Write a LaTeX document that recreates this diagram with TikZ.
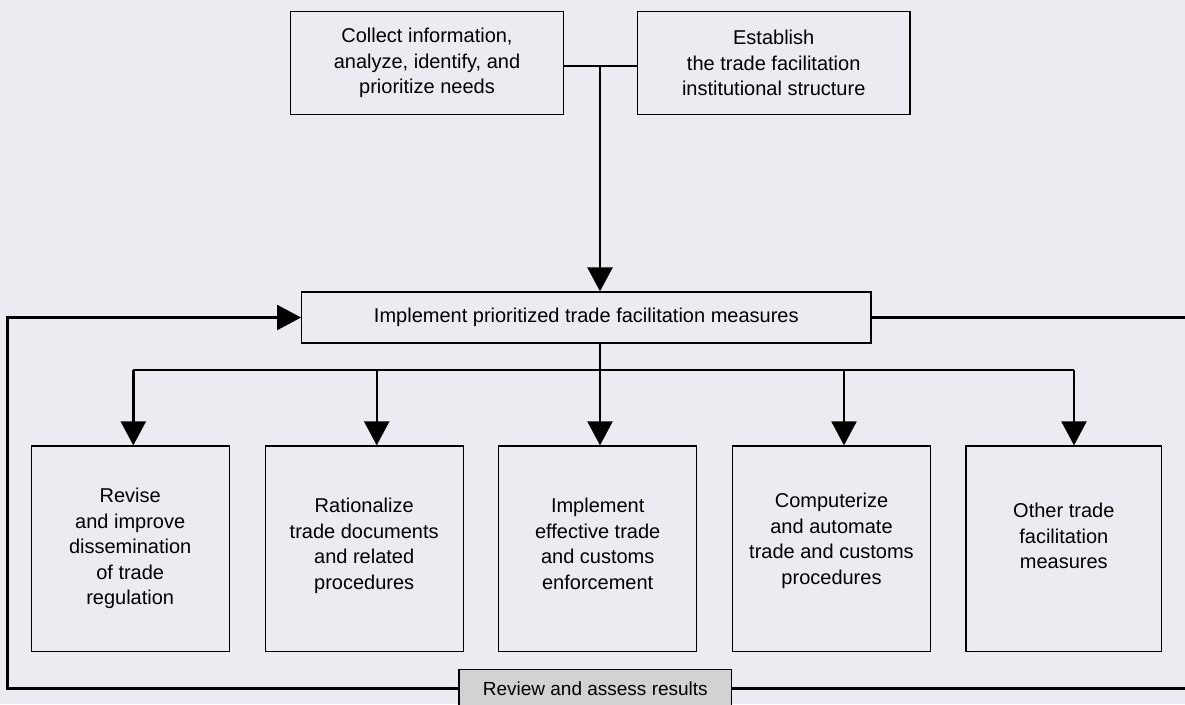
\documentclass[tikz,border=0pt]{standalone}
\usepackage{fontspec}
\setmainfont{Liberation Sans}
\usetikzlibrary{arrows.meta}
\definecolor{bgcol}{RGB}{236,235,241}
\definecolor{reviewcol}{RGB}{210,210,212}
\begin{document}
\begin{tikzpicture}[x=1pt,y=-1pt,
    box/.style={draw=black,line width=1.2pt,align=center,inner sep=0pt,
      font=\fontsize{20}{25.5}\selectfont},
    toprow/.style={box,minimum width=272.6pt,minimum height=102.6pt},
    lowrow/.style={box,minimum width=198pt,minimum height=205.7pt},
    link/.style={line width=2.4pt},
    arrow/.style={link,-{Triangle[length=24pt,width=25pt]}}]
  \fill[bgcol] (0,0) rectangle (1185,704);
  \useasboundingbox (0,0) rectangle (1185,704);

  \node[toprow] (collect) at (427,63)
    {Collect information,\\analyze, identify, and\\prioritize needs};
  \node[toprow] (establish) at (773.7,63)
    {Establish\\the trade facilitation\\institutional structure};
  \node[box,minimum width=569.3pt,minimum height=51pt] (implement) at (586.3,317.5)
    {Implement prioritized trade facilitation measures};

  \node[lowrow] (revise) at (130.2,548.8)
    {Revise\\and improve\\dissemination\\of trade\\regulation};
  \node[lowrow] (rational) at (364.2,548.8)
    {Rationalize\\trade documents\\and related\\procedures\\[-15pt]\mbox{}};
  \node[lowrow] (enforce) at (597.7,548.8)
    {Implement\\effective trade\\and customs\\enforcement\\[-15pt]\mbox{}};
  \node[lowrow] (computer) at (831.5,548.8)
    {Computerize\\and automate\\trade and customs\\procedures\\[-5pt]\mbox{}};
  \node[lowrow,minimum width=195.7pt] (other) at (1063.8,548.8)
    {Other trade\\facilitation\\measures\\\mbox{}};

  \node[box,fill=reviewcol,minimum width=272.7pt,minimum height=38pt,
    font=\fontsize{19}{23}\selectfont] (review) at (595.3,688.3)
    {Review and assess results};

  % top join
  \coordinate (join) at (600,66);
  \draw[link] (collect.east |- join) -- (establish.west |- join);
  \draw[arrow] (join) -- (implement.north -| join);

  % branches
  \coordinate (split) at (600,370);
  \draw[link] (implement.south -| split) -- (split);
  \foreach \name/\bx in {revise/133.3,rational/376.7,enforce/600,computer/844,other/1074}
    \draw[arrow] (\bx,370) -- (\name.north -| \bx,0);
  \draw[link] (133.3,370) -- (1074,370);

  % feedback loop
  \coordinate (fbleft) at (7.3,688.3);
  \coordinate (fbright) at (1190,688.3);
  \draw[arrow] (review.west) -- (fbleft) |- (implement.west);
  \draw[link] (review.east) -- (fbright) |- (implement.east);
\end{tikzpicture}
\end{document}
